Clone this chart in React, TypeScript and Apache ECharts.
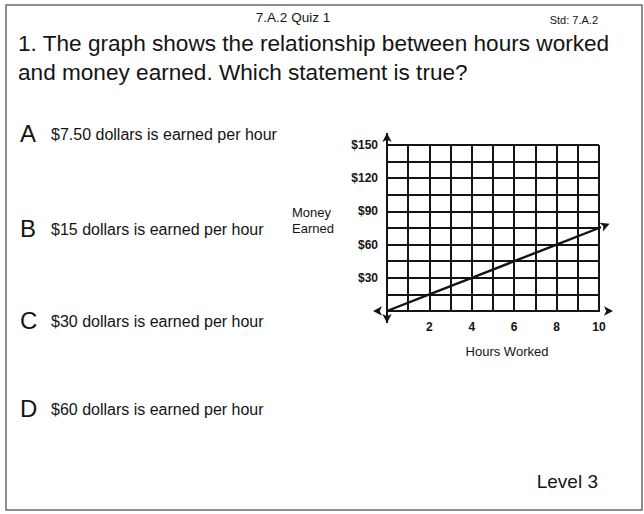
import React, { useEffect, useRef } from "react";
import * as echarts from "echarts";

// ---- data ----
const HOURS = [0, 2, 4, 6, 8, 10, 10.5];
const MONEY = [0, 15, 30, 45, 60, 75, 78.75];
const X_TICKS = [2, 4, 6, 8, 10];
const X_TICK_LABELS = ["2", "4", "6", "8", "10"];
const Y_TICKS = [30, 60, 90, 120, 150];
const Y_TICK_LABELS = ["$30", "$60", "$90", "$120", "$150"];
const X_AXIS_EXTENT = [-0.66, 10.66];
const Y_AXIS_EXTENT = [-10.8, 160.8];
const OPTION_LETTERS = ["A", "B", "C", "D"];
const OPTION_TEXTS = [
  "$7.50 dollars is earned per hour",
  "$15 dollars is earned per hour",
  "$30 dollars is earned per hour",
  "$60 dollars is earned per hour",
];
const HEADER = "7.A.2 Quiz 1";
const STD = "Std: 7.A.2";
const QUESTION = [
  "1. The graph shows the relationship between hours worked",
  "and money earned. Which statement is true?",
];
const LEVEL = "Level 3";
const X_NAME = "Hours Worked";
const Y_NAME = "Money\nEarned\n ";

const FONT = "'Liberation Sans', Arial, Helvetica, sans-serif";
const INK = "#141414";

export default function App() {
  const ref = useRef<HTMLDivElement>(null);
  useEffect(() => {
    if (!ref.current) return;
    const chart = echarts.init(ref.current, undefined, { renderer: "svg" });

    const grid = { left: 387, top: 145, width: 212, height: 166 };
    const xMax = 10, yMax = 150;
    const pxPerX = grid.width / xMax;
    const pxPerY = grid.height / yMax;
    const slopePx = ((MONEY[1] - MONEY[0]) / (HOURS[1] - HOURS[0])) * pxPerY / pxPerX;
    const lineAngle = (Math.atan(slopePx) * 180) / Math.PI;

    const optionYs = [133, 228, 320, 408];

    const graphic: any[] = [
      {
        type: "rect",
        shape: { x: 6, y: 5, width: 636, height: 505 },
        style: { fill: "none", stroke: "#6a6a6a", lineWidth: 1.5 },
        silent: true,
      },
      {
        type: "text",
        x: 293,
        y: 17,
        style: { text: HEADER, fontSize: 13.5, fontFamily: FONT, fill: INK, align: "center", verticalAlign: "middle" },
      },
      {
        type: "text",
        x: 598,
        y: 20,
        style: { text: STD, fontSize: 11, fontFamily: FONT, fill: INK, align: "right", verticalAlign: "middle" },
      },
      ...QUESTION.map((t, i) => ({
        type: "text",
        x: 18,
        y: 43 + i * 29,
        style: { text: t, fontSize: 22.6, fontFamily: FONT, fill: INK, align: "left", verticalAlign: "middle" },
      })),
      ...OPTION_LETTERS.map((t, i) => ({
        type: "text",
        x: 20,
        y: optionYs[i],
        style: { text: t, fontSize: 24, fontFamily: FONT, fill: INK, align: "left", verticalAlign: "middle" },
      })),
      ...OPTION_TEXTS.map((t, i) => ({
        type: "text",
        x: 51,
        y: optionYs[i] + 1,
        style: { text: t, fontSize: 16, fontFamily: FONT, fill: INK, align: "left", verticalAlign: "middle" },
      })),
      {
        type: "text",
        x: 598,
        y: 481,
        style: { text: LEVEL, fontSize: 19, fontFamily: FONT, fill: INK, align: "right", verticalAlign: "middle" },
      },
    ];

    const arrowItem = (x: number, y: number, rot: number) => ({
      value: [x, y],
      symbol: "arrow",
      symbolSize: [7, 9],
      symbolRotate: rot,
    });

    chart.setOption({
      animation: false,
      backgroundColor: "#ffffff",
      grid: { ...grid, outerBoundsMode: "none", containLabel: false, show: false },
      xAxis: {
        type: "value",
        min: 0,
        max: xMax,
        interval: 1,
        name: X_NAME,
        nameLocation: "middle",
        nameGap: 34,
        nameTextStyle: { fontSize: 13, fontFamily: FONT, color: INK, padding: [0, 0, 0, 28] },
        axisLine: { show: false },
        axisTick: { show: false },
        axisLabel: {
          margin: 10,
          fontSize: 12,
          fontWeight: "bold",
          fontFamily: FONT,
          color: INK,
          formatter: (v: number) => {
            const i = X_TICKS.indexOf(v);
            return i >= 0 ? X_TICK_LABELS[i] : "";
          },
        },
        splitLine: { show: true, lineStyle: { color: INK, width: 2 } },
      },
      yAxis: {
        type: "value",
        min: 0,
        max: yMax,
        interval: 15,
        name: Y_NAME,
        nameLocation: "middle",
        nameRotate: 0,
        nameGap: 95,
        nameTextStyle: {
          fontSize: 13,
          fontFamily: FONT,
          color: INK,
          align: "left",
          verticalAlign: "middle",
          lineHeight: 16,
        },
        axisLine: { show: false },
        axisTick: { show: false },
        axisLabel: {
          margin: 9,
          fontSize: 12,
          fontWeight: "bold",
          fontFamily: FONT,
          color: INK,
          formatter: (v: number) => {
            const i = Y_TICKS.indexOf(v);
            return i >= 0 ? Y_TICK_LABELS[i] : "";
          },
        },
        splitLine: { show: true, lineStyle: { color: INK, width: 2 } },
      },
      series: [
        {
          type: "line",
          name: "x-axis",
          silent: true,
          clip: false,
          symbol: "none",
          lineStyle: { color: INK, width: 2 },
          itemStyle: { color: INK },
          data: [
            arrowItem(X_AXIS_EXTENT[0], 0, 90),
            arrowItem(X_AXIS_EXTENT[1], 0, -90),
          ],
        },
        {
          type: "line",
          name: "y-axis",
          silent: true,
          clip: false,
          symbol: "none",
          lineStyle: { color: INK, width: 2 },
          itemStyle: { color: INK },
          data: [
            arrowItem(0, Y_AXIS_EXTENT[0], 180),
            arrowItem(0, Y_AXIS_EXTENT[1], 0),
          ],
        },
        {
          type: "line",
          name: "Money earned",
          silent: true,
          clip: false,
          symbol: "none",
          lineStyle: { color: INK, width: 2.4 },
          itemStyle: { color: INK },
          data: HOURS.map((h, i) =>
            i === HOURS.length - 1
              ? arrowItem(h, MONEY[i], lineAngle - 90)
              : { value: [h, MONEY[i]], symbol: "none" }
          ),
        },
      ],
      graphic,
    });
    return () => chart.dispose();
  }, []);

  return (
    <div
      ref={ref}
      style={{ position: "fixed", left: 0, top: 0, width: 644, height: 514, background: "#fff" }}
    />
  );
}
